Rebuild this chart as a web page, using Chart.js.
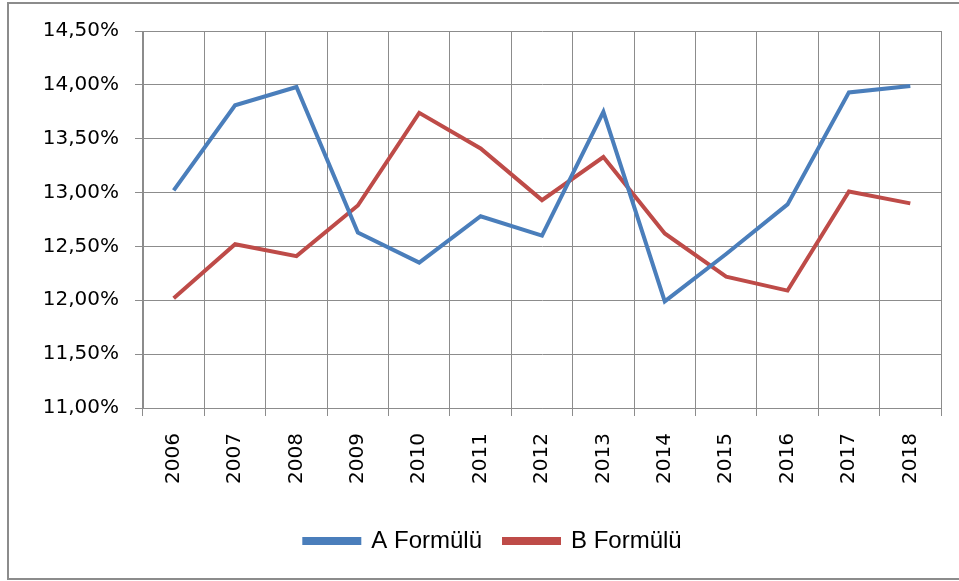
<!DOCTYPE html>
<html>
<head>
<meta charset="utf-8">
<script src="https://cdn.jsdelivr.net/npm/chart.js@4"></script>
<style>
  html, body { margin: 0; padding: 0; background: #fff; }
  #wrap { position: relative; width: 959px; height: 581px; overflow: hidden; }
  #frame { position: absolute; left: 7px; top: 2px; width: 960px; height: 574px; border: 2px solid #8c8c8c; }
  #graph { position: absolute; left: 0; top: 0; }
</style>
</head>
<body>
<div id="wrap">
  <div id="frame"></div>
  <canvas id="graph" width="959" height="581"></canvas>
</div>
<script>
const years = ['2006', '2007', '2008', '2009', '2010', '2011', '2012', '2013', '2014', '2015', '2016', '2017', '2018']
const formulaA = [13.02, 13.81, 13.98, 12.63, 12.35, 12.78, 12.60, 13.75, 11.99, 12.43, 12.89, 13.93, 13.99]
const formulaB = [12.02, 12.52, 12.41, 12.88, 13.74, 13.41, 12.93, 13.33, 12.62, 12.22, 12.09, 13.01, 12.90]

const gridColor = '#8c8c8c'
const axisFont = { family: 'DejaVu Sans', size: 20 }

const ctx = document.getElementById('graph').getContext('2d')

const config = {
    type: 'line',
    data: {
        labels: years,
        datasets: [{
            label: 'A Formülü',
            data: formulaA,
            borderColor: '#4a7ebb',
            backgroundColor: '#4a7ebb',
            borderWidth: 4,
            pointRadius: 0,
            tension: 0
        }, {
            label: 'B Formülü',
            data: formulaB,
            borderColor: '#be4b48',
            backgroundColor: '#be4b48',
            borderWidth: 4,
            pointRadius: 0,
            tension: 0
        }]
    },
    options: {
        responsive: false,
        animation: false,
        // left padding only pushes the legend centre to the right, the y axis eats the rest
        layout: { padding: { left: 27, top: 31, right: 0, bottom: 18 } },
        plugins: {
            tooltip: { enabled: false },
            legend: {
                position: 'bottom',
                labels: {
                    color: '#000',
                    font: { family: 'Liberation Sans', size: 24 },
                    boxWidth: 55,
                    boxHeight: 4,
                    padding: 22
                }
            }
        },
        scales: {
            x: {
                offset: true,
                grid: { offset: true, color: gridColor, lineWidth: 1, tickLength: 8 },
                border: { color: gridColor },
                ticks: { color: '#000', font: axisFont, minRotation: 90, maxRotation: 90, padding: 17 },
                afterFit: (scale) => { scale.height = 99 }
            },
            y: {
                min: 11,
                max: 14.5,
                grid: { color: gridColor, lineWidth: 1, tickLength: 8 },
                border: { color: gridColor },
                ticks: {
                    stepSize: 0.5,
                    color: '#000',
                    font: axisFont,
                    padding: 16,
                    callback: (v) => v.toFixed(2).replace('.', ',') + '%'
                },
                afterFit: (scale) => { scale.width = 116 }
            },
            // empty spacer on the right so the plot stops short of the edge
            right: {
                position: 'right',
                grid: { display: false, drawTicks: false },
                border: { display: false },
                ticks: { display: false },
                afterFit: (scale) => { scale.width = 18 }
            }
        }
    }
}

const graph = new Chart(ctx, config)
</script>
</body>
</html>
